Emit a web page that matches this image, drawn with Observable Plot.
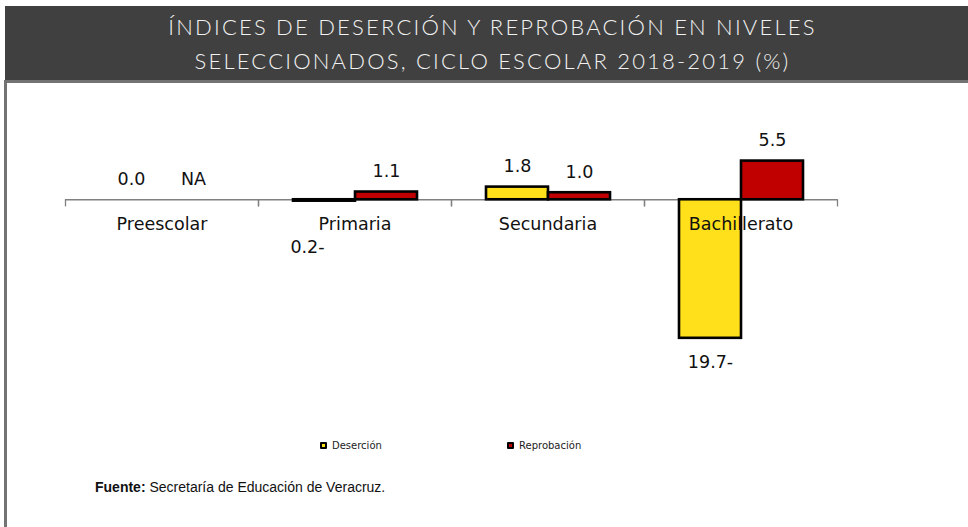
<!DOCTYPE html>
<html>
<head>
<meta charset="utf-8">
<script src="https://cdn.jsdelivr.net/npm/d3@7"></script>
<script src="https://cdn.jsdelivr.net/npm/@observablehq/plot@0.6"></script>
<style>
  html, body { margin: 0; padding: 0; background: #fff; }
  #page { position: relative; width: 968px; height: 527px; overflow: hidden; background: #fff; }
  #header { position: absolute; left: 5px; top: 6px; width: 963px; height: 74px; background: #404040;
    color: #f2f2f2; font-family: Lato, "Open Sans", sans-serif; font-weight: 300; font-size: 22px;
    line-height: 26px; letter-spacing: 2.2px; text-align: center; }
  #header div { position: absolute; left: 12px; right: 0; }
  #topline { position: absolute; left: 5px; top: 80px; width: 963px; height: 3px; background: #737373; }
  #leftline { position: absolute; left: 4px; top: 80px; width: 3px; height: 447px; background: #737373; }
  #chart { position: absolute; left: 0; top: 83px; }
  #legend { position: absolute; top: 440px; left: 0; width: 968px; height: 14px;
    font-family: "DejaVu Sans", Verdana, sans-serif; font-size: 10px; color: #222; }
  .item { position: absolute; display: flex; align-items: center; gap: 5px; }
  .sw { display: inline-block; width: 3px; height: 3px; border: 2px solid #000; border-radius: 1px; }
  #caption { position: absolute; left: 95px; top: 479px; font-family: "Liberation Sans", Arial, sans-serif;
    font-size: 14px; color: #111; }
</style>
</head>
<body>
<div id="page">
  <div id="header">
    <div id="t1" style="top:8px">ÍNDICES DE DESERCIÓN Y REPROBACIÓN EN NIVELES</div>
    <div id="t2" style="top:42px">SELECCIONADOS, CICLO ESCOLAR 2018-2019 (%)</div>
  </div>
  <div id="topline"></div>
  <div id="leftline"></div>
  <div id="chart"></div>
  <div id="legend"></div>
  <div id="caption"><b>Fuente:</b> Secretaría de Educación de Veracruz.</div>
</div>
<script>
// ---- data ----
const categories = ["Preescolar", "Primaria", "Secundaria", "Bachillerato"];
const series = ["Deserción", "Reprobación"];
const desercion = [0.0, -0.2, 1.8, -19.7];
const reprobacion = [null, 1.1, 1.0, 5.5];
const colors = ["#FFE01A", "#C00000"];

const rows = [];
categories.forEach((c, i) => {
  rows.push({cat: c, series: series[0], value: desercion[i]});
  rows.push({cat: c, series: series[1], value: reprobacion[i]});
});

const fmt = v => v == null ? "NA" : (v < 0 ? Math.abs(v).toFixed(1) + "-" : v.toFixed(1));

// ---- layout ----
const W = 968, H = 340;
const mTop = 60, mBottom = 69, mLeft = 63, mRight = 130;
const yDomain = [-22, 8];
const yPix = v => mTop + (yDomain[1] - v) / (yDomain[1] - yDomain[0]) * (H - mTop - mBottom);
const zeroY = yPix(0);
const tickLen = 6;
const nearAxis = -3.4; // negative labels closer than this are pushed below the category labels

const font = "DejaVu Sans, Verdana, sans-serif";
const fs = 17.5;

const chart = Plot.plot({
  width: W,
  height: H,
  marginTop: mTop,
  marginBottom: mBottom,
  marginLeft: mLeft,
  marginRight: mRight,
  style: {fontFamily: font, fontSize: fs + "px", color: "#111", background: "transparent"},
  fx: {domain: categories, padding: 0, axis: null},
  x: {domain: series, paddingInner: 0, paddingOuter: 0.54, axis: null},
  y: {domain: yDomain, axis: null},
  color: {domain: series, range: colors},
  marks: [
    Plot.ruleY([0], {stroke: "#808080", strokeWidth: 1.3}),
    Plot.frame({anchor: "left", stroke: "#808080", strokeWidth: 1.3,
      insetTop: zeroY - mTop, insetBottom: (H - mBottom) - zeroY - tickLen}),
    Plot.frame({anchor: "right", stroke: "#808080", strokeWidth: 1.3,
      insetTop: zeroY - mTop, insetBottom: (H - mBottom) - zeroY - tickLen}),
    Plot.barY(rows.filter(d => d.value != null && d.value !== 0), {
      fx: "cat", x: "series", y: "value", fill: "series",
      stroke: "#000", strokeWidth: 2.6
    }),
    // labels for positive / zero / NA values
    Plot.text(rows.filter(d => d.value == null || d.value >= 0), {
      fx: "cat", x: "series", y: d => d.value ?? 0, text: d => fmt(d.value),
      dy: -20.5, fontSize: fs, fill: "#111"
    }),
    // labels for large negative values
    Plot.text(rows.filter(d => d.value != null && d.value < nearAxis), {
      fx: "cat", x: "series", y: "value", text: d => fmt(d.value),
      dy: 24, fontSize: fs, fill: "#111"
    }),
    // labels for small negative values (placed below the category label)
    Plot.text(rows.filter(d => d.value != null && d.value < 0 && d.value >= nearAxis), {
      fx: "cat", x: "series", y: () => nearAxis, text: d => fmt(d.value),
      dy: 24, dx: -17, fontSize: fs, fill: "#111"
    }),
    // category labels
    Plot.text(categories, {fx: d => d, y: () => 0, text: d => d, dy: 25, fontSize: fs, fill: "#111"})
  ]
});
document.getElementById("chart").appendChild(chart);

// legend
const legend = document.getElementById("legend");
const legendX = [320, 507];
series.forEach((s, i) => {
  const it = document.createElement("div");
  it.className = "item";
  it.style.left = legendX[i] + "px";
  it.innerHTML = `<span class="sw" style="background:${colors[i]}"></span><span>${s}</span>`;
  legend.appendChild(it);
});
</script>
</body>
</html>
